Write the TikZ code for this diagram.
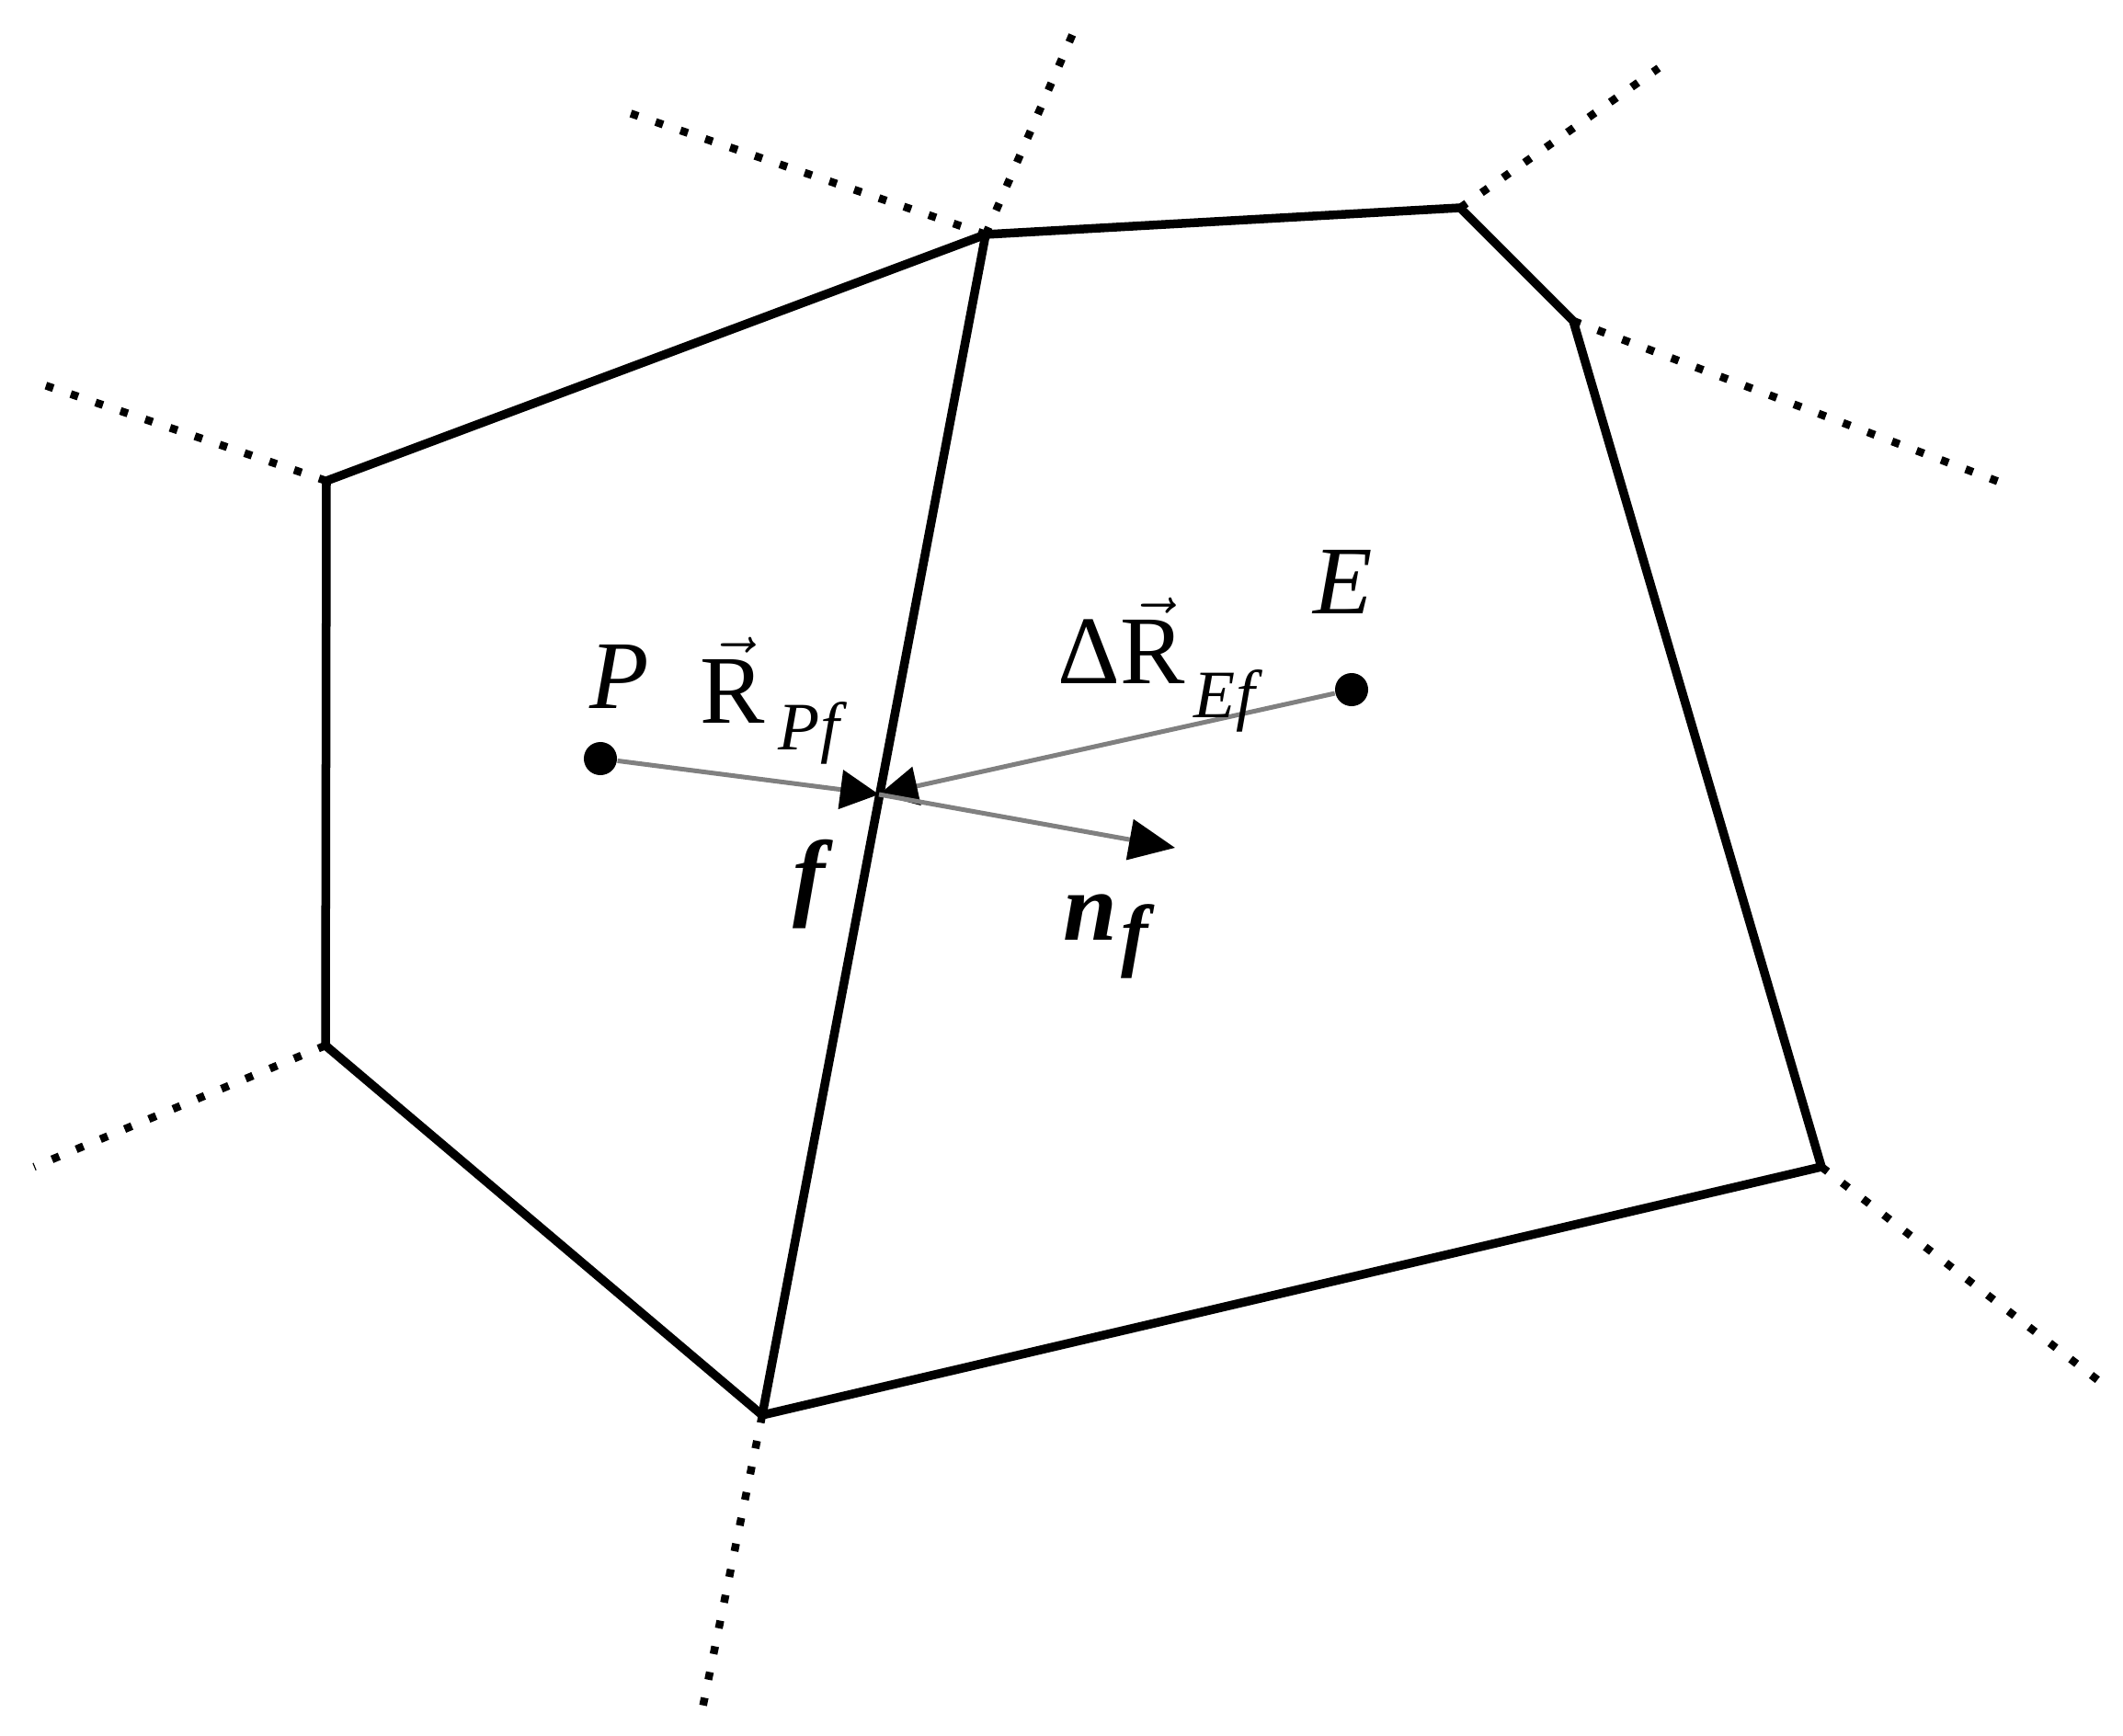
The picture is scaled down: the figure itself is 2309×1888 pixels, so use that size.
\documentclass[tikz,border=0pt]{standalone}
\usepackage{amsmath}
\usepackage{fontspec}
\setmainfont{Liberation Serif}
\usetikzlibrary{arrows.meta}
\begin{document}
\begin{tikzpicture}[x=0.01cm,y=-0.01cm,
  edge/.style={line width=0.095cm, line join=miter},
  dotline/.style={line width=0.085cm, dash pattern=on 0.085cm off 0.2cm},
  vecline/.style={line width=0.05cm, draw=black!50, -{Triangle[length=0.42cm,width=0.42cm,color=black]}},
  dotnode/.style={circle, fill=black, inner sep=0pt, minimum size=0.36cm},
  lab/.style={font=\fontsize{30}{36}\selectfont, inner sep=0pt},
  sublab/.style={font=\fontsize{21}{24}\selectfont, inner sep=0pt}]
\useasboundingbox (0,0) rectangle (2309,1888);
% cell vertices
\coordinate (A) at (1072,255);
\coordinate (B) at (1588,226);
\coordinate (C) at (1711,349);
\coordinate (D) at (1981,1269);
\coordinate (F) at (829,1539);
\coordinate (G) at (354,1137);
\coordinate (H) at (355,523);
% dashed ends
\coordinate (a1) at (1171,27);
\coordinate (a2) at (670,118);
\coordinate (b1) at (1804,74);
\coordinate (c1) at (2190,530);
\coordinate (d1) at (2283,1502);
\coordinate (f1) at (763,1863);
\coordinate (g1) at (37,1269);
\coordinate (h1) at (37,415);
% neighbouring faces
\draw[dotline] (A) -- (a1);
\draw[dotline] (A) -- (a2);
\draw[dotline] (B) -- (b1);
\draw[dotline] (C) -- (c1);
\draw[dotline] (D) -- (d1);
\draw[dotline] (F) -- (f1);
\draw[dotline] (G) -- (g1);
\draw[dotline] (H) -- (h1);
% cells
\draw[edge] (H) -- (A) -- (B) -- (C) -- (D) -- (F) -- (G) -- cycle;
\draw[edge] (A) -- (F);
% centroids and face point
\node[dotnode] (P) at (653,825) {};
\node[dotnode] (E) at (1470,750) {};
\coordinate (fp) at (956,864);
\coordinate (nf) at (1278,922);
\draw[vecline] (P) -- (fp);
\draw[vecline] (E) -- (fp);
\draw[vecline, -{Triangle[length=0.5cm,width=0.44cm,color=black]}] (fp) -- (nf);
% labels
\node[lab] (Plab) at (674,736) {\textit{P}};
\node[lab] (Elab) at (1461,633) {\textit{E}};
\node[lab] (Rpf) at (797,740) {$\vec{\text{R}}$};
\node[sublab] (Rpfs) at (884,797) {\textit{Pf}};
\node[lab] (Ref) at (1220,697) {Δ$\vec{\text{R}}$};
\node[sublab] (Refs) at (1336,762) {\textit{Ef}};
\node[lab] (flab) at (884,962) {\textbf{\textit{f}}};
\node[lab] (nlab) at (1186,998) {\textbf{\textit{n}}};
\node[lab] (nsub) at (1238,1024) {\fontsize{25}{28}\selectfont\textbf{\textit{f}}};
\end{tikzpicture}
\end{document}
